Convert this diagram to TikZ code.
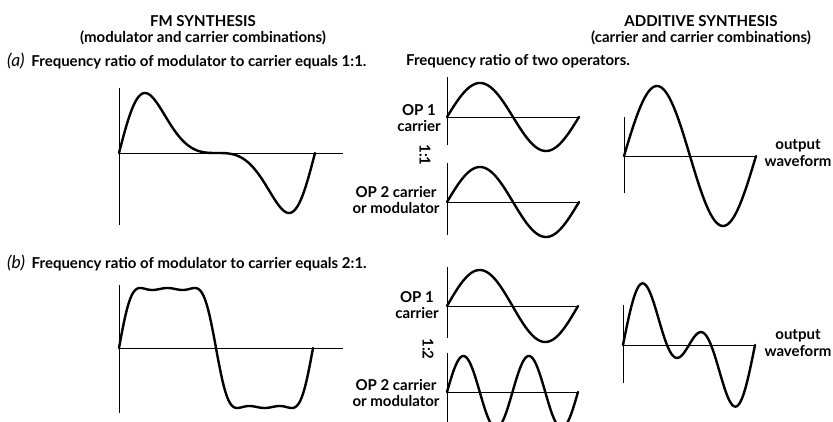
\documentclass[tikz,border=0pt]{standalone}
\usepackage{fontspec}
\setmainfont{Lato}
\usetikzlibrary{positioning}

\newcommand{\partlabel}[1]{{\fontsize{17.5}{16}\selectfont\mdseries\itshape (#1)}\hspace{0.45em}}

\begin{document}
\begin{tikzpicture}[x=1pt, y=-1pt,
      wave/.style={line width=2.4pt, line join=round, line cap=round},
      axis/.style={line width=0.9pt},
      head/.style={align=center, inner sep=0pt, font=\bfseries\fontsize{15}{16}\selectfont},
      caption/.style={anchor=west, inner sep=0pt, font=\bfseries\fontsize{15}{16}\selectfont},
      lab/.style={align=center, inner sep=0pt, font=\bfseries\fontsize{15}{16.5}\selectfont},
      ratio/.style={inner sep=0pt, rotate=-90, font=\bfseries\fontsize{15}{16}\selectfont}]
    \useasboundingbox (0,0) rectangle (833,422);

    % headings
    \node[head] (fmhead) at (203,30) {FM SYNTHESIS\\(modulator and carrier combinations)};
    \node[head] (addhead) at (701,30) {ADDITIVE SYNTHESIS\\(carrier and carrier combinations)};
    \node[caption] (capa) at (7,61) {\partlabel{a}Frequency ratio of modulator to carrier equals 1:1.};
    \node[caption] (capop) at (406,61) {Frequency ratio of two operators.};
    \node[caption] (capb) at (7,263) {\partlabel{b}Frequency ratio of modulator to carrier equals 2:1.};

    % panel origins
    \coordinate (fma) at (119,153);
    \coordinate (fmb) at (119,348);
    \coordinate (opa1) at (447,117);
    \coordinate (opa2) at (447,202);
    \coordinate (opb1) at (447,306);
    \coordinate (opb2) at (447,392);
    \coordinate (adda) at (624,156);
    \coordinate (addb) at (623,345);

    % (a) FM, ratio 1:1
    \begin{scope}[shift={(fma)}]
      \draw[axis] (0,-65) -- (0,72);
      \draw[axis] (0,0) -- (224,0);
      \draw[wave] plot[domain=0:360, samples=150] ({\x/360*196}, {-60*sin(\x+deg(sin(\x)))});
    \end{scope}
    % (b) FM, ratio 2:1
    \begin{scope}[shift={(fmb)}]
      \draw[axis] (0,-63) -- (0,65);
      \draw[axis] (0,0) -- (224,0);
      \draw[wave] plot[domain=0:360, samples=200] ({\x/360*194}, {-60*sin(\x+deg(0.9*sin(2*\x)))});
    \end{scope}

    % operators
    \begin{scope}[shift={(opa1)}]
      \draw[axis] (0,-40) -- (0,28);
      \draw[axis] (0,0) -- (132,0);
      \draw[wave] plot[domain=0:360, samples=100] ({\x/360*132}, {-34*sin(\x)});
    \end{scope}
    \begin{scope}[shift={(opa2)}]
      \draw[axis] (0,-39) -- (0,33);
      \draw[axis] (0,0) -- (132,0);
      \draw[wave] plot[domain=0:360, samples=100] ({\x/360*132}, {-35*sin(\x)});
    \end{scope}
    \begin{scope}[shift={(opb1)}]
      \draw[axis] (0,-39) -- (0,32);
      \draw[axis] (0,0) -- (131,0);
      \draw[wave] plot[domain=0:360, samples=100] ({\x/360*131}, {-36*sin(\x)});
    \end{scope}
    \begin{scope}[shift={(opb2)}]
      \draw[axis] (0,-39) -- (0,32);
      \draw[axis] (0,0) -- (131,0);
      \draw[wave] plot[domain=0:720, samples=160] ({\x/720*131}, {-36*sin(\x)});
    \end{scope}

    \node[lab] (op1a) at (419,118) {OP 1\\carrier};
    \node[lab] (op2a) at (396,200) {OP 2 carrier\\or modulator};
    \node[ratio] (ra) at (425,155) {1:1};
    \node[lab] (op1b) at (417,305) {OP 1\\carrier};
    \node[lab] (op2b) at (396,393) {OP 2 carrier\\or modulator};
    \node[ratio] (rb) at (428,349) {1:2};

    % additive results
    \begin{scope}[shift={(adda)}]
      \draw[axis] (0,-39) -- (0,37);
      \draw[axis] (0,0) -- (132,0);
      \draw[wave] plot[domain=0:360, samples=100] ({\x/360*132}, {-70*sin(\x)});
    \end{scope}
    \begin{scope}[shift={(addb)}]
      \draw[axis] (0,-40) -- (0,38);
      \draw[axis] (0,0) -- (132,0);
      \draw[wave] plot[domain=0:360, samples=150] ({\x/360*132}, {-35*(sin(\x)+sin(2*\x))});
    \end{scope}
    \node[lab] (outa) at (798,153) {output\\waveform};
    \node[lab] (outb) at (798,343) {output\\waveform};
  \end{tikzpicture}
\end{document}
